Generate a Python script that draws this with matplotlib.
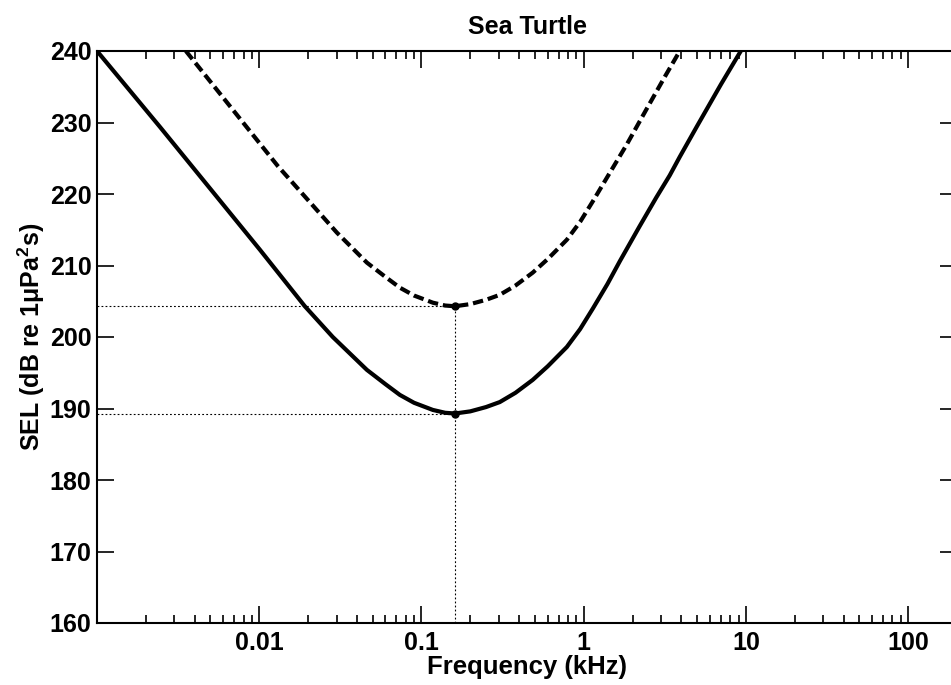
import matplotlib
matplotlib.use("Agg")
import matplotlib.pyplot as plt
from matplotlib.ticker import FixedLocator, FixedFormatter, NullFormatter

# ---- data ----
tts_freq = [0.001, 0.00244, 0.0101, 0.0191, 0.0284, 0.0461, 0.06, 0.0736, 0.09, 0.1175,
            0.14, 0.161, 0.2, 0.25, 0.304, 0.38, 0.485, 0.6, 0.787, 0.95, 1.14, 1.4,
            1.67, 2.2, 2.8, 3.39, 3.91, 5.0, 7.0, 9.3]
tts_sel = [240.0, 229.4, 212.2, 204.3, 200.0, 195.4, 193.4, 191.9, 190.8, 189.8,
           189.4, 189.3, 189.6, 190.2, 190.9, 192.2, 194.0, 195.9, 198.6, 201.1, 204.0, 207.4,
           210.6, 215.4, 219.5, 222.6, 225.2, 229.5, 235.3, 240.0]

pts_freq = [0.00353, 0.01303, 0.0301, 0.0461, 0.06, 0.0736, 0.09, 0.1175, 0.14, 0.161,
            0.2, 0.25, 0.304, 0.38, 0.485, 0.6, 0.787, 0.95, 1.14, 1.4, 1.84, 2.5, 3.2, 3.91]
pts_sel = [240.0, 223.9, 214.6, 210.4, 208.4, 206.9, 205.8, 204.8, 204.4, 204.3,
           204.6, 205.2, 205.9, 207.2, 209.0, 210.9, 213.6, 216.1, 219.0, 222.4,
           226.9, 232.3, 236.6, 240.0]

min_freq = 0.161
tts_min = 189.3
pts_min = 204.3

xtick_vals = [0.01, 0.1, 1, 10, 100]
xtick_labels = ["0.01", "0.1", "1", "10", "100"]
ytick_vals = [160, 170, 180, 190, 200, 210, 220, 230, 240]

title = "Sea Turtle"
xlabel = "Frequency (kHz)"
ylabel = r"SEL (dB re 1$\mathbf{\mu}$Pa$^{\mathbf{2}}$s)"

# ---- style ----
plt.rcParams['font.family'] = ['Liberation Sans', 'DejaVu Sans']
plt.rcParams['font.weight'] = 'bold'
plt.rcParams['mathtext.fontset'] = 'custom'
plt.rcParams['mathtext.rm'] = 'Liberation Sans:bold'
plt.rcParams['mathtext.bf'] = 'Liberation Sans:bold'
plt.rcParams['mathtext.it'] = 'Liberation Sans:bold'
plt.rcParams['lines.scale_dashes'] = False

fig = plt.figure(figsize=(9.51, 6.85), dpi=100)
ax = fig.add_axes([97/951, 62/685, (957-97)/951, (623-51)/685])

ax.set_xscale('log')
ax.set_xlim(0.001, 200)
ax.set_ylim(160, 240)

# dotted guide lines
dot_kw = dict(color='black', linewidth=0.8, dashes=(1.3, 1.6))
ax.plot([0.001, min_freq], [tts_min, tts_min], **dot_kw)
ax.plot([0.001, min_freq], [pts_min, pts_min], **dot_kw)
ax.plot([min_freq, min_freq], [160, pts_min], **dot_kw)

# curves
ax.plot(tts_freq, tts_sel, color='black', linewidth=3.0, solid_capstyle='butt',
        solid_joinstyle='round')
ax.plot(pts_freq, pts_sel, color='black', linewidth=3.0, dashes=(7.5, 3.5),
        dash_capstyle='butt')

# minima markers
ax.plot([min_freq, min_freq], [tts_min, pts_min], 'o', color='black', markersize=5)

# ticks
ax.xaxis.set_major_locator(FixedLocator(xtick_vals))
ax.xaxis.set_major_formatter(FixedFormatter(xtick_labels))
minor = [m * 10.0**e for e in range(-3, 3) for m in range(2, 10)]
ax.xaxis.set_minor_locator(FixedLocator(minor))
ax.xaxis.set_minor_formatter(NullFormatter())
ax.yaxis.set_major_locator(FixedLocator(ytick_vals))

ax.tick_params(axis='both', which='major', direction='in', length=12.5, width=1.2,
               top=True, right=True, labelsize=18, pad=4)
ax.tick_params(axis='x', which='minor', direction='in', length=6, width=1.2, top=True)
ax.tick_params(axis='x', which='major', pad=6)

for lab in ax.get_xticklabels() + ax.get_yticklabels():
    lab.set_fontweight('bold')

for sp in ax.spines.values():
    sp.set_linewidth(1.5)

ax.set_title(title, fontsize=18, fontweight='bold', pad=12)
ax.set_xlabel(xlabel, fontsize=18.5, fontweight='bold', labelpad=0)
ax.set_ylabel(ylabel, fontsize=18, fontweight='bold', labelpad=2)

fig.savefig('out.png', dpi=100)
